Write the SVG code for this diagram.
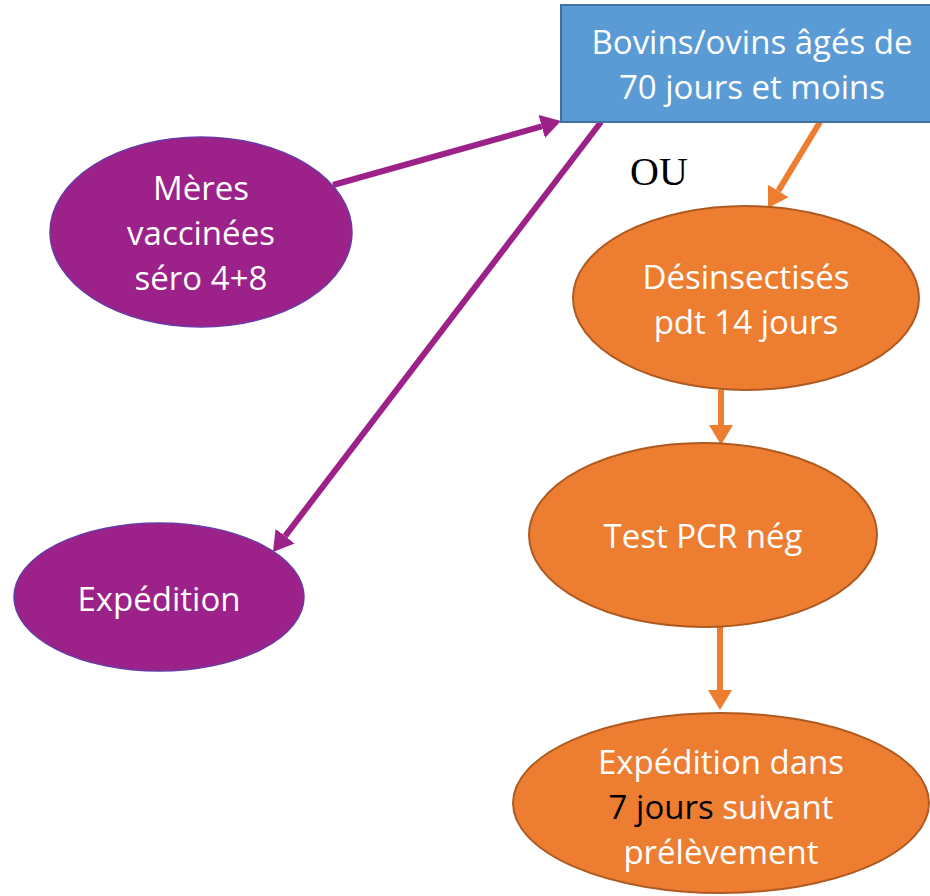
<svg xmlns="http://www.w3.org/2000/svg" width="930" height="896" viewBox="0 0 930 896">
<style>
.t{font-family:"Open Sans","Liberation Sans",sans-serif;font-size:33px;fill:#fff;text-anchor:middle}
.purple{fill:#9C2189;stroke:#6A3AA6;stroke-width:1.5}
.orange{fill:#ED7D31;stroke:#AE5A21;stroke-width:2}
.lp{stroke:#9C2189;stroke-width:6;fill:none}
.lo{stroke:#ED7D31;stroke-width:6;fill:none}
</style>
<defs>
<marker id="ap" markerUnits="userSpaceOnUse" viewBox="0 0 20 24" markerWidth="20" markerHeight="24" refX="0" refY="12" orient="auto"><path d="M0,0 L20,12 L0,24 z" fill="#9C2189"/></marker>
<marker id="ao" markerUnits="userSpaceOnUse" viewBox="0 0 20 24" markerWidth="20" markerHeight="24" refX="0" refY="12" orient="auto"><path d="M0,0 L20,12 L0,24 z" fill="#ED7D31"/></marker>
</defs>
<rect width="930" height="896" fill="#fff"/>
<g id="connectors">
<line class="lp" x1="333" y1="185" x2="541.7" y2="126.4" marker-end="url(#ap)"/>
<line class="lp" x1="601" y1="122" x2="285.1" y2="536.1" marker-end="url(#ap)"/>
<line class="lo" x1="820" y1="122" x2="778.3" y2="190.9" stroke-width="5" marker-end="url(#ao)"/>
<line class="lo" x1="721" y1="390" x2="721" y2="425" marker-end="url(#ao)"/>
<line class="lo" x1="720" y1="627" x2="720" y2="690" marker-end="url(#ao)"/>
</g>
<g id="bovins">
<rect x="561" y="5" width="390" height="117" fill="#5B9BD5" stroke="#41719C" stroke-width="2"/>
<text class="t" x="752" y="54">Bovins/ovins âgés de</text>
<text class="t" x="752" y="99">70 jours et moins</text>
</g>
<g id="ou">
<text x="630" y="185" font-family="'Liberation Serif',serif" font-size="40" fill="#000">OU</text>
</g>
<g id="meres">
<ellipse class="purple" cx="201" cy="232" rx="151" ry="95"/>
<text class="t" x="201" y="200">Mères</text>
<text class="t" x="201" y="245">vaccinées</text>
<text class="t" x="201" y="290">séro 4+8</text>
</g>
<g id="expedition">
<ellipse class="purple" cx="159" cy="597" rx="145" ry="74"/>
<text class="t" x="159" y="611">Expédition</text>
</g>
<g id="desinsectises">
<ellipse class="orange" cx="746" cy="298" rx="173" ry="92"/>
<text class="t" x="746" y="289">Désinsectisés</text>
<text class="t" x="746" y="334">pdt 14 jours</text>
</g>
<g id="testpcr">
<ellipse class="orange" cx="703" cy="535" rx="174" ry="92"/>
<text class="t" x="703" y="548">Test PCR nég</text>
</g>
<g id="expedition7">
<ellipse class="orange" cx="721" cy="803" rx="208" ry="90"/>
<text class="t" x="721" y="774">Expédition dans</text>
<text class="t" x="721" y="819"><tspan fill="#000">7 jours</tspan> suivant</text>
<text class="t" x="721" y="864">prélèvement</text>
</g>
</svg>
